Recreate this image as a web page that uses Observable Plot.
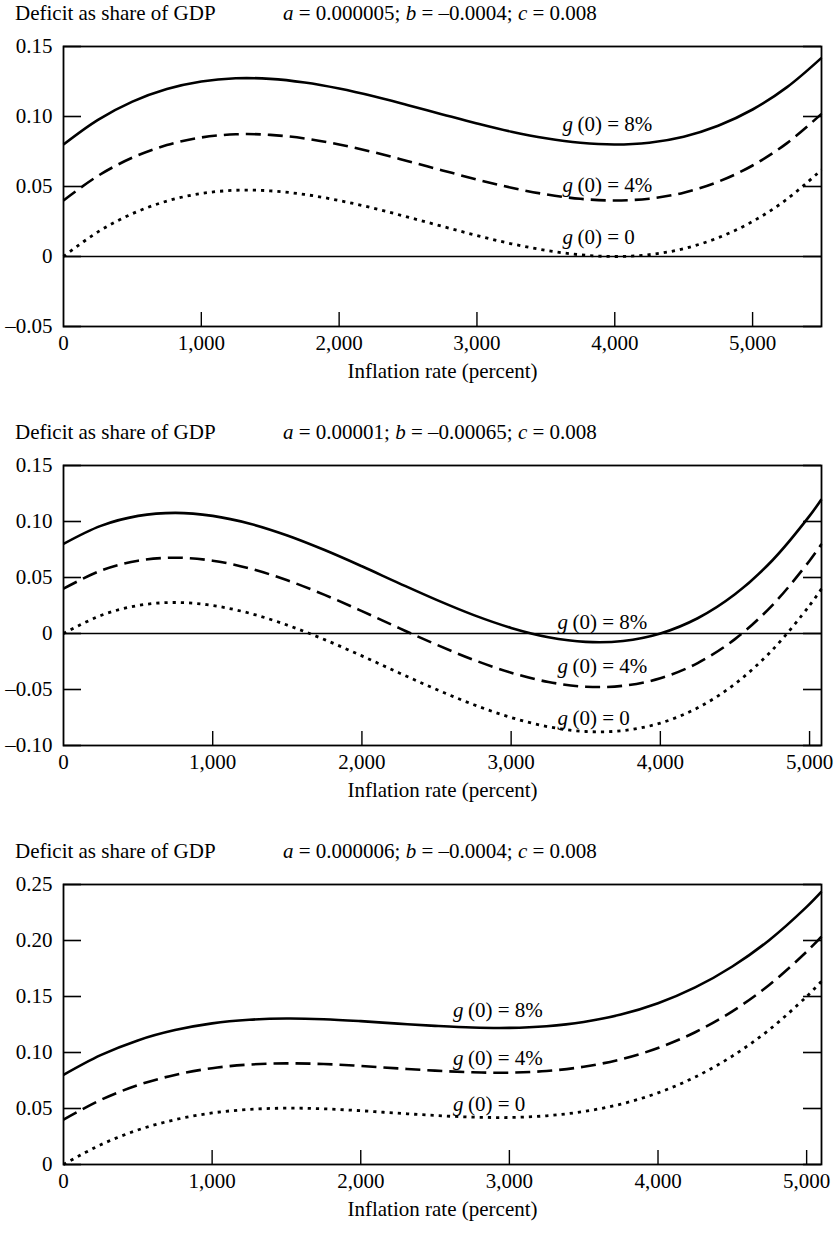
<!DOCTYPE html>
<html>
<head>
<meta charset="utf-8">
<script src="https://cdn.jsdelivr.net/npm/d3@7"></script>
<script src="https://cdn.jsdelivr.net/npm/@observablehq/plot@0.6"></script>
<style>
  html, body { margin: 0; padding: 0; background: #fff; }
  body { width: 834px; height: 1245px; overflow: hidden; font-family: "Liberation Serif", "Times New Roman", serif; color: #000; }
  .panel { position: relative; width: 834px; height: 419px; }
  .t1, .t2 { position: absolute; top: 0; font-size: 21px; line-height: 26px; white-space: nowrap; }
  .t1 { left: 15px; }
  .t2 { left: 283px; }
  .plotwrap { position: absolute; top: 34px; left: 0; }
  svg { display: block; }
</style>
</head>
<body>
<div id="root"></div>
<script>
// ---------- data ----------
const yTitle = "Deficit as share of GDP";
const xTitle = "Inflation rate (percent)";
const paramText = [
  "<i>a</i> = 0.000005; <i>b</i> = \u20130.0004; <i>c</i> = 0.008",
  "<i>a</i> = 0.00001; <i>b</i> = \u20130.00065; <i>c</i> = 0.008",
  "<i>a</i> = 0.000006; <i>b</i> = \u20130.0004; <i>c</i> = 0.008"
];
const seriesNames = ["g (0) = 8%", "g (0) = 4%", "g (0) = 0"];
const seriesRest = ["(0) = 8%", "(0) = 4%", "(0) = 0"];

const xTicks = [1000, 2000, 3000, 4000, 5000];
const xTickValues = [0, 1000, 2000, 3000, 4000, 5000];
const xTickLabels = ["0", "1,000", "2,000", "3,000", "4,000", "5,000"];

// Panel 1
const x1 = [0, 250, 500, 750, 1000, 1250, 1500, 1750, 2000, 2250, 2500, 2750, 3000, 3250, 3500, 3750, 4000, 4250, 4500, 4750, 5000, 5250, 5500];
const p1g8 = [0.0800, 0.0976, 0.1106, 0.1196, 0.1250, 0.1273, 0.1269, 0.1243, 0.1200, 0.1145, 0.1081, 0.1015, 0.0950, 0.0891, 0.0844, 0.0812, 0.0800, 0.0813, 0.0856, 0.0934, 0.1050, 0.1210, 0.1419];
const p1g4 = [0.0400, 0.0576, 0.0706, 0.0796, 0.0850, 0.0873, 0.0869, 0.0843, 0.0800, 0.0745, 0.0681, 0.0615, 0.0550, 0.0491, 0.0444, 0.0412, 0.0400, 0.0413, 0.0456, 0.0534, 0.0650, 0.0810, 0.1019];
const p1g0 = [0.0000, 0.0176, 0.0306, 0.0396, 0.0450, 0.0473, 0.0469, 0.0443, 0.0400, 0.0345, 0.0281, 0.0215, 0.0150, 0.0091, 0.0044, 0.0012, 0.0000, 0.0013, 0.0056, 0.0134, 0.0250, 0.0410, 0.0619];
const p1yTicks = [-0.05, 0, 0.05, 0.10, 0.15];
const p1yLabels = ["\u20130.05", "0", "0.05", "0.10", "0.15"];
const p1xMax = 5500;
const p1labelX = 3620;
const p1labelY = [0.0947, 0.051, 0.0137];

// Panel 2
const x2 = [0, 250, 500, 750, 1000, 1250, 1500, 1750, 2000, 2250, 2500, 2750, 3000, 3250, 3500, 3750, 4000, 4250, 4500, 4750, 5000, 5080];
const p2g8 = [0.0800, 0.0961, 0.1050, 0.1077, 0.1050, 0.0980, 0.0875, 0.0745, 0.0600, 0.0448, 0.0300, 0.0164, 0.0050, -0.0033, -0.0075, -0.0067, 0.0000, 0.0136, 0.0350, 0.0652, 0.1050, 0.1199];
const p2g4 = [0.0400, 0.0561, 0.0650, 0.0677, 0.0650, 0.0580, 0.0475, 0.0345, 0.0200, 0.0048, -0.0100, -0.0236, -0.0350, -0.0433, -0.0475, -0.0467, -0.0400, -0.0264, -0.0050, 0.0252, 0.0650, 0.0799];
const p2g0 = [0.0000, 0.0161, 0.0250, 0.0277, 0.0250, 0.0180, 0.0075, -0.0055, -0.0200, -0.0352, -0.0500, -0.0636, -0.0750, -0.0833, -0.0875, -0.0867, -0.0800, -0.0664, -0.0450, -0.0148, 0.0250, 0.0399];
const p2yTicks = [-0.10, -0.05, 0, 0.05, 0.10, 0.15];
const p2yLabels = ["\u20130.10", "\u20130.05", "0", "0.05", "0.10", "0.15"];
const p2xMax = 5080;
const p2labelX = 3310;
const p2labelY = [0.010, -0.029, -0.0755];

// Panel 3
const x3 = [0, 250, 500, 750, 1000, 1250, 1500, 1750, 2000, 2250, 2500, 2750, 3000, 3250, 3500, 3750, 4000, 4250, 4500, 4750, 5000, 5100];
const p3g8 = [0.0800, 0.0976, 0.1108, 0.1200, 0.1260, 0.1292, 0.1303, 0.1297, 0.1280, 0.1258, 0.1238, 0.1223, 0.1220, 0.1235, 0.1273, 0.1339, 0.1440, 0.1581, 0.1768, 0.2005, 0.2300, 0.2436];
const p3g4 = [0.0400, 0.0576, 0.0708, 0.0800, 0.0860, 0.0892, 0.0903, 0.0897, 0.0880, 0.0858, 0.0838, 0.0823, 0.0820, 0.0835, 0.0873, 0.0939, 0.1040, 0.1181, 0.1368, 0.1605, 0.1900, 0.2036];
const p3g0 = [0.0000, 0.0176, 0.0308, 0.0400, 0.0460, 0.0492, 0.0503, 0.0497, 0.0480, 0.0458, 0.0438, 0.0423, 0.0420, 0.0435, 0.0473, 0.0539, 0.0640, 0.0781, 0.0968, 0.1205, 0.1500, 0.1636];
const p3yTicks = [0, 0.05, 0.10, 0.15, 0.20, 0.25];
const p3yLabels = ["0", "0.05", "0.10", "0.15", "0.20", "0.25"];
const p3xMax = 5100;
const p3labelX = 2620;
const p3labelY = [0.1377, 0.0952, 0.0542];

// ---------- styling ----------
const W = 834, mL = 63, mR = 13, mT = 12, frameH = 280, mB = 93;
const frameW = W - mL - mR;
const yTickLen = 18, xTickLen = 14;
const lineStyles = [
  {strokeWidth: 2.6, strokeDasharray: null},
  {strokeWidth: 2.6, strokeDasharray: "15,7"},
  {strokeWidth: 2.8, strokeDasharray: "3.2,5"}
];

function makePanel(cfg, idx) {
  const rows = [];
  const ys = [cfg.g8, cfg.g4, cfg.g0];
  ys.forEach((arr, s) => arr.forEach((v, i) => rows.push({x: cfg.x[i], y: v, s})));
  const labels = cfg.labelY.map((y, s) => ({x: cfg.labelX, y, s}));
  const yMap = new Map(cfg.yTicks.map((d, i) => [d, cfg.yLabels[i]]));
  const xMap = new Map(xTickValues.map((d, i) => [d, xTickLabels[i]]));

  const marks = [];
  if (cfg.zeroLine) marks.push(Plot.ruleY([0], {stroke: "black", strokeWidth: 1.3}));
  [0, 1, 2].forEach(s => {
    marks.push(Plot.line(rows.filter(r => r.s === s), {
      x: "x", y: "y", curve: "catmull-rom", stroke: "black",
      strokeWidth: lineStyles[s].strokeWidth,
      strokeDasharray: lineStyles[s].strokeDasharray,
      strokeLinecap: "butt"
    }));
  });
  marks.push(Plot.text(labels, {x: "x", y: "y", text: () => "g", fontStyle: "italic", textAnchor: "start", fill: "black"}));
  marks.push(Plot.text(labels, {x: "x", y: "y", text: d => seriesRest[d.s], textAnchor: "start", dx: 15, fill: "black"}));
  marks.push(Plot.frame({stroke: "black", strokeWidth: 1.8}));
  // inward y ticks on both sides
  marks.push(Plot.tickY(cfg.yTicks, {y: d => d, stroke: "black", strokeWidth: 1.6, insetRight: frameW - yTickLen}));
  marks.push(Plot.tickY(cfg.yTicks, {y: d => d, stroke: "black", strokeWidth: 1.6, insetLeft: frameW - yTickLen}));
  // inward x ticks
  marks.push(Plot.tickX(xTicks, {x: d => d, stroke: "black", strokeWidth: 1.4, insetTop: frameH - xTickLen}));
  marks.push(Plot.axisY(cfg.yTicks, {anchor: "left", tickSize: 0, tickPadding: 11, tickFormat: d => yMap.get(d), label: null}));
  marks.push(Plot.axisX(xTickValues, {anchor: "bottom", tickSize: 0, tickPadding: 9, tickFormat: d => xMap.get(d),
    label: xTitle, labelAnchor: "center", labelArrow: "none", labelOffset: 51}));

  return Plot.plot({
    width: W, height: mT + frameH + mB,
    marginLeft: mL, marginRight: mR, marginTop: mT, marginBottom: mB,
    style: {fontFamily: "'Liberation Serif', 'Times New Roman', serif", fontSize: "21px", color: "black", background: "white", overflow: "visible"},
    x: {domain: [0, cfg.xMax]},
    y: {domain: [cfg.yTicks[0], cfg.yTicks[cfg.yTicks.length - 1]]},
    marks
  });
}

const panels = [
  {x: x1, g8: p1g8, g4: p1g4, g0: p1g0, yTicks: p1yTicks, yLabels: p1yLabels, xMax: p1xMax, labelX: p1labelX, labelY: p1labelY, zeroLine: true},
  {x: x2, g8: p2g8, g4: p2g4, g0: p2g0, yTicks: p2yTicks, yLabels: p2yLabels, xMax: p2xMax, labelX: p2labelX, labelY: p2labelY, zeroLine: true},
  {x: x3, g8: p3g8, g4: p3g4, g0: p3g0, yTicks: p3yTicks, yLabels: p3yLabels, xMax: p3xMax, labelX: p3labelX, labelY: p3labelY, zeroLine: false}
];

const root = document.getElementById("root");
panels.forEach((cfg, i) => {
  const div = document.createElement("div");
  div.className = "panel";
  const t1 = document.createElement("span");
  t1.className = "t1"; t1.textContent = yTitle;
  const t2 = document.createElement("span");
  t2.className = "t2"; t2.innerHTML = paramText[i];
  const wrap = document.createElement("div");
  wrap.className = "plotwrap";
  wrap.appendChild(makePanel(cfg, i));
  div.appendChild(t1); div.appendChild(t2); div.appendChild(wrap);
  root.appendChild(div);
});
</script>
</body>
</html>
